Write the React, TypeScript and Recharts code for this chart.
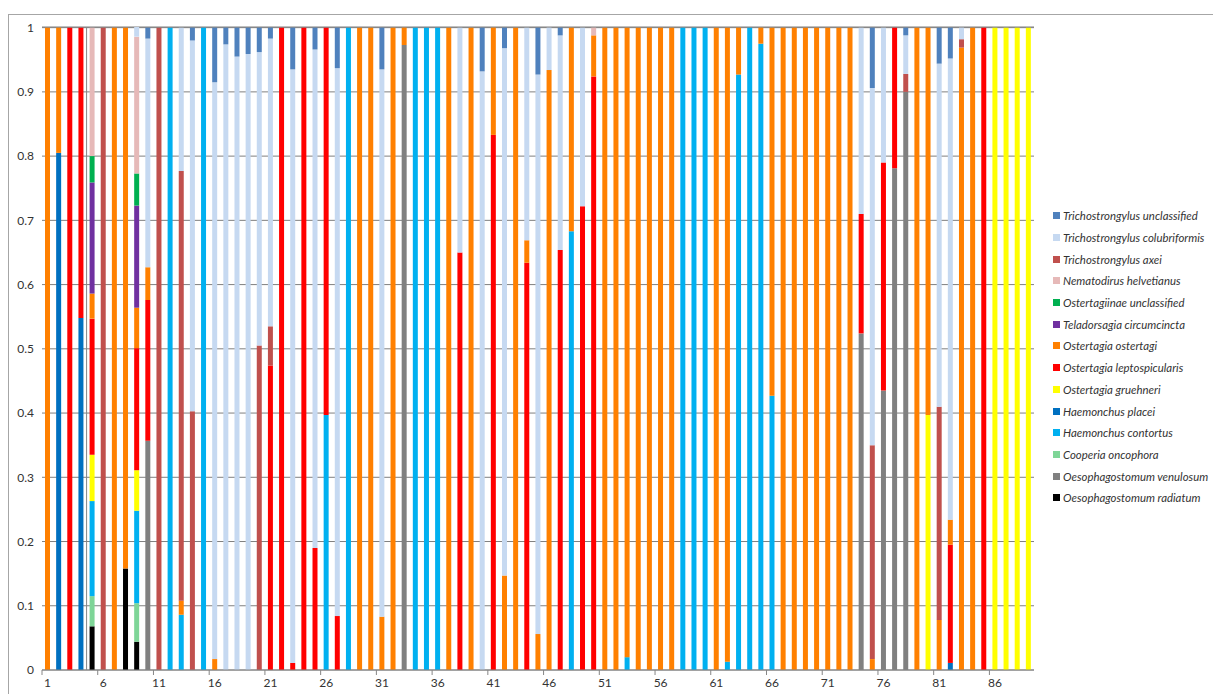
import React from 'react';
import {
  BarChart,
  Bar,
  XAxis,
  YAxis,
  CartesianGrid,
  ReferenceLine,
  Legend,
} from 'recharts';

// sample numbers 1..89 along the x axis
const SAMPLES = Array.from({ length: 89 }, (_, i) => i + 1);
const X_TICKS = [1, 6, 11, 16, 21, 26, 31, 36, 41, 46, 51, 56, 61, 66, 71, 76, 81, 86];
const Y_TICKS = [0, 0.1, 0.2, 0.3, 0.4, 0.5, 0.6, 0.7, 0.8, 0.9, 1];

// proportion of each species per sample (rows of 10 samples)
const radiatum = [
  0, 0, 0, 0, 0.068, 0, 0, 0.158, 0.044, 0,
  0, 0, 0, 0, 0, 0, 0, 0, 0, 0,
  0, 0, 0, 0, 0, 0, 0, 0, 0, 0,
  0, 0, 0, 0, 0, 0, 0, 0, 0, 0,
  0, 0, 0, 0, 0, 0, 0, 0, 0, 0,
  0, 0, 0, 0, 0, 0, 0, 0, 0, 0,
  0, 0, 0, 0, 0, 0, 0, 0, 0, 0,
  0, 0, 0, 0, 0, 0, 0, 0, 0, 0,
  0, 0, 0, 0, 0, 0, 0, 0, 0,
];
const venulosum = [
  0, 0, 0, 0, 0, 0, 0, 0, 0, 0.357,
  0, 0, 0, 0, 0, 0, 0, 0, 0, 0,
  0, 0, 0, 0, 0, 0, 0, 0, 0, 0,
  0, 0, 0.973, 0, 0, 0, 0, 0, 0, 0,
  0, 0, 0, 0, 0, 0, 0, 0, 0, 0,
  0, 0, 0, 0, 0, 0, 0, 0, 0, 0,
  0, 0, 0, 0, 0, 0, 0, 0, 0, 0,
  0, 0, 0, 0.524, 0, 0.435, 0.781, 0.9, 0, 0,
  0, 0, 0, 0, 0, 0, 0, 0, 0,
];
const cooperia = [
  0, 0, 0, 0, 0.047, 0, 0, 0, 0.06, 0,
  0, 0, 0, 0, 0, 0, 0, 0, 0, 0,
  0, 0, 0, 0, 0, 0, 0, 0, 0, 0,
  0, 0, 0, 0, 0, 0, 0, 0, 0, 0,
  0, 0, 0, 0, 0, 0, 0, 0, 0, 0,
  0, 0, 0, 0, 0, 0, 0, 0, 0, 0,
  0, 0, 0, 0, 0, 0, 0, 0, 0, 0,
  0, 0, 0, 0, 0, 0, 0, 0, 0, 0,
  0, 0, 0, 0, 0, 0, 0, 0, 0,
];
const contortus = [
  0, 0, 0, 0, 0.148, 0, 0, 0, 0.144, 0,
  0, 1, 0.086, 0, 1, 0, 0, 0, 0, 0,
  0, 0, 0, 0, 0, 0.397, 0, 1, 0, 0,
  0, 0, 0, 1, 1, 1, 0, 0, 0, 0,
  0, 0, 0, 0, 0, 0, 0, 0.683, 0, 0,
  0, 0, 0.02, 0, 0, 0, 0, 1, 1, 1,
  0, 0.013, 0.927, 1, 0.975, 0.427, 0, 0, 0, 0,
  0, 0, 0, 0, 0, 0, 0, 0, 0, 0,
  0, 0, 0, 0, 0, 0, 0, 0, 0,
];
const placei = [
  0, 0.805, 0, 0.548, 0, 0, 0, 0, 0, 0,
  0, 0, 0, 0, 0, 0, 0, 0, 0, 0,
  0, 0, 0, 0, 0, 0, 0, 0, 0, 0,
  0, 0, 0, 0, 0, 0, 0, 0, 0, 0,
  0, 0, 0, 0, 0, 0, 0, 0, 0, 0,
  0, 0, 0, 0, 0, 0, 0, 0, 0, 0,
  0, 0, 0, 0, 0, 0, 0, 0, 0, 0,
  0, 0, 0, 0, 0, 0, 0, 0, 0, 0,
  0, 0.011, 0, 0, 0, 0, 0, 0, 0,
];
const gruehneri = [
  0, 0, 0, 0, 0.072, 0, 0, 0, 0.063, 0,
  0, 0, 0, 0, 0, 0, 0, 0, 0, 0,
  0, 0, 0, 0, 0, 0, 0, 0, 0, 0,
  0, 0, 0, 0, 0, 0, 0, 0, 0, 0,
  0, 0, 0, 0, 0, 0, 0, 0, 0, 0,
  0, 0, 0, 0, 0, 0, 0, 0, 0, 0,
  0, 0, 0, 0, 0, 0, 0, 0, 0, 0,
  0, 0, 0, 0, 0, 0, 0, 0, 0, 0.397,
  0, 0, 0, 0, 0, 1, 1, 1, 1,
];
const leptospicularis = [
  0, 0, 1, 0.452, 0.212, 0, 0, 0, 0.19, 0.219,
  0, 0, 0, 0, 0, 0, 0, 0, 0, 0,
  0.474, 1, 0.011, 1, 0.19, 0.603, 0.084, 0, 0, 0,
  0, 0, 0, 0, 0, 0, 0, 0.65, 0, 0,
  0.833, 0, 0, 0.634, 0, 0, 0.654, 0, 0.722, 0.924,
  0, 0, 0, 0, 0, 0, 0, 0, 0, 0,
  0, 0, 0, 0, 0, 0, 0, 0, 0, 0,
  0, 0, 0, 0.186, 0, 0.355, 0.219, 0, 0, 0,
  0, 0.184, 0, 0, 1, 0, 0, 0, 0,
];
const ostertagi = [
  1, 0.195, 0, 0, 0.039, 0, 1, 0.842, 0.063, 0.051,
  0, 0, 0.022, 0, 0, 0.017, 0, 0, 0, 0,
  0, 0, 0, 0, 0, 0, 0, 0, 1, 1,
  0.083, 1, 0.027, 0, 0, 0, 1, 0, 1, 0,
  0.167, 0.147, 1, 0.035, 0.056, 0.934, 0, 0.317, 0, 0.064,
  1, 1, 0.98, 1, 1, 1, 1, 0, 0, 0,
  1, 0.987, 0.073, 0, 0.025, 0.573, 1, 1, 1, 1,
  1, 1, 1, 0, 0.017, 0, 0, 0, 1, 0.603,
  0.078, 0.039, 0.969, 1, 0, 0, 0, 0, 0,
];
const circumcincta = [
  0, 0, 0, 0, 0.173, 0, 0, 0, 0.159, 0,
  0, 0, 0, 0, 0, 0, 0, 0, 0, 0,
  0, 0, 0, 0, 0, 0, 0, 0, 0, 0,
  0, 0, 0, 0, 0, 0, 0, 0, 0, 0,
  0, 0, 0, 0, 0, 0, 0, 0, 0, 0,
  0, 0, 0, 0, 0, 0, 0, 0, 0, 0,
  0, 0, 0, 0, 0, 0, 0, 0, 0, 0,
  0, 0, 0, 0, 0, 0, 0, 0, 0, 0,
  0, 0, 0, 0, 0, 0, 0, 0, 0,
];
const ostertagiinaeUncl = [
  0, 0, 0, 0, 0.041, 0, 0, 0, 0.05, 0,
  0, 0, 0, 0, 0, 0, 0, 0, 0, 0,
  0, 0, 0, 0, 0, 0, 0, 0, 0, 0,
  0, 0, 0, 0, 0, 0, 0, 0, 0, 0,
  0, 0, 0, 0, 0, 0, 0, 0, 0, 0,
  0, 0, 0, 0, 0, 0, 0, 0, 0, 0,
  0, 0, 0, 0, 0, 0, 0, 0, 0, 0,
  0, 0, 0, 0, 0, 0, 0, 0, 0, 0,
  0, 0, 0, 0, 0, 0, 0, 0, 0,
];
const helvetianus = [
  0, 0, 0, 0, 0.2, 0, 0, 0, 0.213, 0,
  0, 0, 0, 0, 0, 0, 0, 0, 0, 0,
  0, 0, 0, 0, 0, 0, 0, 0, 0, 0,
  0, 0, 0, 0, 0, 0, 0, 0, 0, 0,
  0, 0, 0, 0, 0, 0, 0, 0, 0, 0.012,
  0, 0, 0, 0, 0, 0, 0, 0, 0, 0,
  0, 0, 0, 0, 0, 0, 0, 0, 0, 0,
  0, 0, 0, 0, 0, 0, 0, 0, 0, 0,
  0, 0, 0, 0, 0, 0, 0, 0, 0,
];
const axei = [
  0, 0, 0, 0, 0, 1, 0, 0, 0, 0,
  1, 0, 0.669, 0.403, 0, 0, 0, 0, 0, 0.505,
  0.061, 0, 0, 0, 0, 0, 0, 0, 0, 0,
  0, 0, 0, 0, 0, 0, 0, 0, 0, 0,
  0, 0, 0, 0, 0, 0, 0, 0, 0, 0,
  0, 0, 0, 0, 0, 0, 0, 0, 0, 0,
  0, 0, 0, 0, 0, 0, 0, 0, 0, 0,
  0, 0, 0, 0, 0.333, 0, 0, 0.028, 0, 0,
  0.332, 0, 0.013, 0, 0, 0, 0, 0, 0,
];
const colubriformis = [
  0, 0, 0, 0, 0, 0, 0, 0, 0.015, 0.356,
  0, 0, 0.223, 0.577, 0, 0.898, 0.974, 0.955, 0.959, 0.457,
  0.448, 0, 0.924, 0, 0.776, 0, 0.853, 0, 0, 0,
  0.852, 0, 0, 0, 0, 0, 0, 0.35, 0, 0.932,
  0, 0.821, 0, 0.331, 0.871, 0.066, 0.334, 0, 0.278, 0,
  0, 0, 0, 0, 0, 0, 0, 0, 0, 0,
  0, 0, 0, 0, 0, 0, 0, 0, 0, 0,
  0, 0, 0, 0.29, 0.556, 0.21, 0, 0.06, 0, 0,
  0.534, 0.718, 0.018, 0, 0, 0, 0, 0, 0,
];
const trichoUncl = [
  0, 0, 0, 0, 0, 0, 0, 0, 0, 0.017,
  0, 0, 0, 0.02, 0, 0.085, 0.026, 0.045, 0.041, 0.038,
  0.017, 0, 0.065, 0, 0.034, 0, 0.063, 0, 0, 0,
  0.065, 0, 0, 0, 0, 0, 0, 0, 0, 0.068,
  0, 0.032, 0, 0, 0.073, 0, 0.012, 0, 0, 0,
  0, 0, 0, 0, 0, 0, 0, 0, 0, 0,
  0, 0, 0, 0, 0, 0, 0, 0, 0, 0,
  0, 0, 0, 0, 0.094, 0, 0, 0.012, 0, 0,
  0.056, 0.048, 0, 0, 0, 0, 0, 0, 0,
];

// stack order: bottom first
const SERIES = [
  { key: 'radiatum', name: 'Oesophagostomum radiatum', color: '#000000', values: radiatum },
  { key: 'venulosum', name: 'Oesophagostomum venulosum', color: '#808080', values: venulosum },
  { key: 'cooperia', name: 'Cooperia oncophora', color: '#7ED597', values: cooperia },
  { key: 'contortus', name: 'Haemonchus contortus', color: '#00B0F0', values: contortus },
  { key: 'placei', name: 'Haemonchus placei', color: '#0070C0', values: placei },
  { key: 'gruehneri', name: 'Ostertagia gruehneri', color: '#FFFF00', values: gruehneri },
  { key: 'lepto', name: 'Ostertagia leptospicularis', color: '#FF0000', values: leptospicularis },
  { key: 'ostertagi', name: 'Ostertagia ostertagi', color: '#FF8000', values: ostertagi },
  { key: 'circumcincta', name: 'Teladorsagia circumcincta', color: '#7030A0', values: circumcincta },
  { key: 'ostUncl', name: 'Ostertagiinae unclassified', color: '#00B050', values: ostertagiinaeUncl },
  { key: 'helvetianus', name: 'Nematodirus helvetianus', color: '#E6B9B8', values: helvetianus },
  { key: 'axei', name: 'Trichostrongylus axei', color: '#C0504D', values: axei },
  { key: 'colubriformis', name: 'Trichostrongylus colubriformis', color: '#C6D9F1', values: colubriformis },
  { key: 'trichoUncl', name: 'Trichostrongylus unclassified', color: '#4F81BD', values: trichoUncl },
];

const data = SAMPLES.map((s, i) => {
  const row: Record<string, number> = { sample: s };
  SERIES.forEach((ser) => {
    row[ser.key] = ser.values[i];
  });
  return row;
});

const W = 1213;
const H = 694;
const PLOT_LEFT = 42;
const PLOT_RIGHT = 1034;
const PLOT_TOP = 27;
const PLOT_BOTTOM = 670;
const STEP = (PLOT_RIGHT - PLOT_LEFT) / SAMPLES.length;
const FONT = 'Lato, "Liberation Sans", sans-serif';
const AXIS_GREY = '#868686';

const XTick = (props: any) => {
  const { x, payload } = props;
  const tx = x - STEP / 2;
  return (
    <g>
      <line x1={tx} x2={tx} y1={PLOT_BOTTOM} y2={PLOT_BOTTOM + 5} stroke={AXIS_GREY} />
      <text x={x} y={PLOT_BOTTOM + 17} textAnchor="middle" fontSize={12} fill="#333" fontFamily={FONT}>
        {payload.value}
      </text>
    </g>
  );
};

const renderLegend = () => (
  <div style={{ fontFamily: FONT, fontSize: 11.4, fontStyle: 'italic', color: '#333' }}>
    {[...SERIES].reverse().map((s) => (
      <div key={s.key} style={{ height: 21.7, display: 'flex', alignItems: 'center', whiteSpace: 'nowrap' }}>
        <span style={{ width: 7, height: 7, background: s.color, display: 'inline-block', marginRight: 3 }} />
        <span>{s.name}</span>
      </div>
    ))}
  </div>
);

export default function App() {
  return (
    <div style={{ position: 'fixed', left: 0, top: 0, width: W, height: H, overflow: 'hidden', background: '#fff' }}>
      <div
        style={{
          position: 'absolute',
          left: 8,
          top: 14,
          width: W,
          height: H,
          border: '1px solid #A6A6A6',
        }}
      />
      <div style={{ position: 'absolute', left: 0, top: 0 }}>
        <BarChart
          width={W}
          height={H}
          data={data}
          margin={{ top: PLOT_TOP, right: W - PLOT_RIGHT, bottom: 0, left: 0 }}
          barSize={5}
        >
          <CartesianGrid vertical={false} stroke="#7F7F7F" />
          <XAxis
            dataKey="sample"
            type="number"
            domain={[0.5, SAMPLES.length + 0.5]}
            ticks={X_TICKS}
            interval={0}
            height={H - PLOT_BOTTOM}
            tick={<XTick />}
            tickLine={false}
            axisLine={{ stroke: AXIS_GREY }}
            allowDataOverflow
          />
          <YAxis
            type="number"
            domain={[0, 1]}
            ticks={Y_TICKS}
            interval={0}
            width={PLOT_LEFT}
            axisLine={false}
            tickLine={false}
            tickFormatter={(v: number) => String(Math.round(v * 10) / 10)}
            tick={{ fontSize: 12, fill: '#333', fontFamily: FONT }}
          />
          <ReferenceLine x={4.5} stroke={AXIS_GREY} />
          {SERIES.map((s) => (
            <Bar key={s.key} dataKey={s.key} name={s.name} stackId="a" fill={s.color} isAnimationActive={false} />
          ))}
          <Legend
            layout="horizontal"
            verticalAlign="middle"
            align="center"
            content={renderLegend}
            wrapperStyle={{ left: 1053, top: 205, width: 160 }}
          />
        </BarChart>
      </div>
    </div>
  );
}
